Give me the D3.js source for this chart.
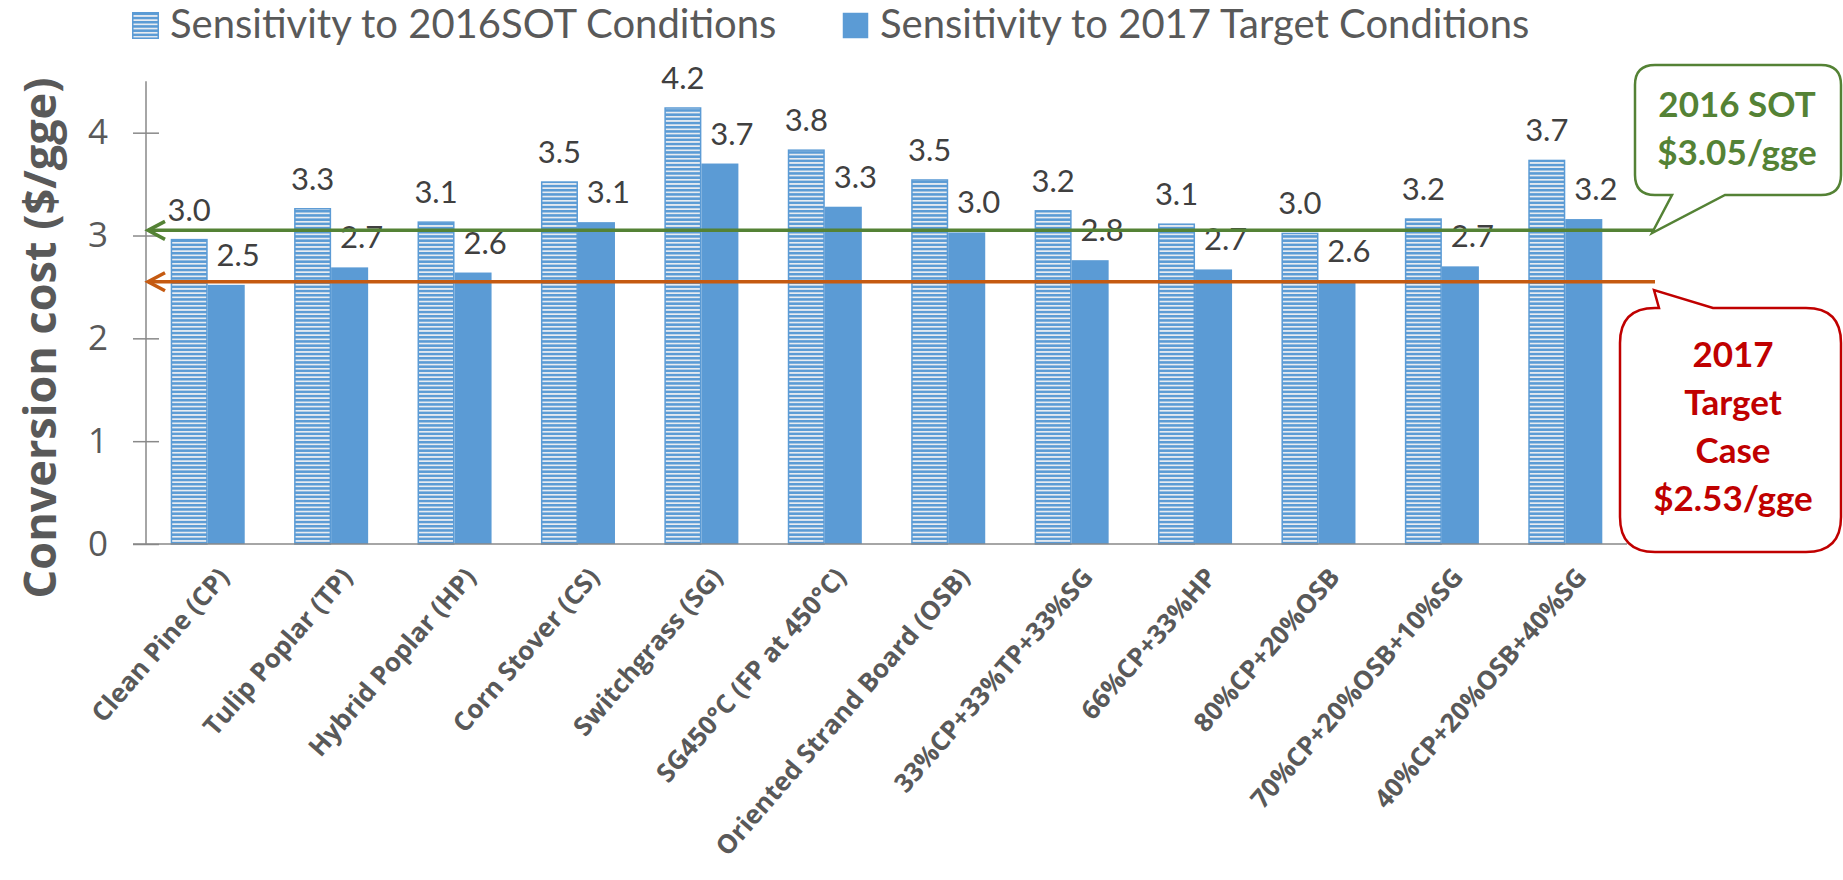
<!DOCTYPE html>
<html>
<head>
<meta charset="utf-8">
<script src="https://cdn.jsdelivr.net/npm/d3@7"></script>
<style>
  body { margin: 0; background: #fff; }
  svg { display: block; }
</style>
</head>
<body>
<main></main>
<script>
(function(){
  //chart data
  const categories = ['Clean Pine (CP)', 'Tulip Poplar (TP)', 'Hybrid Poplar (HP)', 'Corn Stover (CS)',
    'Switchgrass (SG)', 'SG450°C (FP at 450°C)', 'Oriented Strand Board (OSB)', '33%CP+33%TP+33%SG',
    '66%CP+33%HP', '80%CP+20%OSB', '70%CP+20%OSB+10%SG', '40%CP+20%OSB+40%SG'];
  const sot2016 = [2.96, 3.26, 3.13, 3.52, 4.24, 3.83, 3.54, 3.24, 3.11, 3.02, 3.16, 3.73];
  const target2017 = [2.52, 2.69, 2.64, 3.13, 3.70, 3.28, 3.03, 2.76, 2.67, 2.56, 2.70, 3.16];
  const seriesNames = ['Sensitivity to 2016SOT Conditions', 'Sensitivity to 2017 Target Conditions'];
  const yTicks = [0, 1, 2, 3, 4];
  const refValues = [3.05, 2.55]; //2016 SOT line, 2017 target line
  const sotCallout = ['2016 SOT', '$3.05/gge'];
  const targetCallout = ['2017', 'Target', 'Case', '$2.53/gge'];

  const width = 1843, height = 880;
  const left = 146, right = 1627, bottom = 544;
  const blue = '#5B9BD5', axisGrey = '#898989', textGrey = '#595959';
  const green = '#548235', orange = '#C55A11', red = '#C00000';

  const svg = d3.select('main').append('svg')
    .attr('width', width)
    .attr('height', height);

  //horizontal stripe pattern for the 2016 series
  const defs = svg.append('defs');
  const pat = defs.append('pattern')
    .attr('id', 'stripes')
    .attr('patternUnits', 'userSpaceOnUse')
    .attr('width', 10)
    .attr('height', 4.2);
  pat.append('rect').attr('width', 10).attr('height', 4.2).attr('fill', blue);
  pat.append('rect').attr('y', 2.5).attr('width', 10).attr('height', 1.7).attr('fill', '#E8ECF1');

  const x0 = d3.scaleBand()
    .domain(categories)
    .range([left, right]);

  const x1 = d3.scaleBand()
    .domain([0, 1])
    .range([0, x0.bandwidth()])
    .paddingOuter(0.667);

  const y = d3.scaleLinear()
    .domain([0, 4.5])
    .range([bottom, bottom - 4.5 * 102.83]);

  //bars
  const groups = svg.selectAll('.group')
    .data(categories)
    .enter()
    .append('g')
    .attr('class', 'group')
    .attr('transform', d => 'translate(' + x0(d) + ',0)');

  groups.append('rect')
    .attr('x', x1(0) + 0.75)
    .attr('y', (d, i) => y(sot2016[i]))
    .attr('width', x1.bandwidth() - 1.5)
    .attr('height', (d, i) => bottom - y(sot2016[i]))
    .attr('fill', 'url(#stripes)')
    .attr('stroke', blue)
    .attr('stroke-width', 1.5);

  groups.append('rect')
    .attr('x', x1(1))
    .attr('y', (d, i) => y(target2017[i]))
    .attr('width', x1.bandwidth())
    .attr('height', (d, i) => bottom - y(target2017[i]))
    .attr('fill', blue);

  //data labels (second series labels sit a little right of the bar)
  const labelShift = [0, 12];
  [sot2016, target2017].forEach(function(vals, s){
    groups.append('text')
      .attr('x', x1(s) + x1.bandwidth() / 2 + labelShift[s])
      .attr('y', (d, i) => y(vals[i]) - 19)
      .attr('text-anchor', 'middle')
      .style('font-family', 'Lato')
      .style('font-size', '31px')
      .style('fill', '#404040')
      .text((d, i) => vals[i].toFixed(1));
  });

  //axes
  const yAxis = d3.axisLeft(y)
    .tickValues(yTicks)
    .tickSize(0)
    .tickPadding(38)
    .tickFormat(d3.format('d'));

  const ya = svg.append('g')
    .attr('transform', 'translate(' + left + ',0)')
    .call(yAxis);
  ya.select('.domain').remove();
  ya.selectAll('text')
    .style('font-family', 'Open Sans')
    .style('font-size', '35px')
    .style('fill', textGrey);
  //cross ticks
  ya.selectAll('.tick').append('line')
    .attr('x1', -13).attr('x2', 13)
    .attr('stroke', axisGrey)
    .attr('stroke-width', 1.5);

  svg.append('line')
    .attr('x1', left).attr('x2', left)
    .attr('y1', y(4.5)).attr('y2', bottom)
    .attr('stroke', axisGrey).attr('stroke-width', 1.5);
  svg.append('line')
    .attr('x1', left - 13).attr('x2', right)
    .attr('y1', bottom).attr('y2', bottom)
    .attr('stroke', axisGrey).attr('stroke-width', 1.5);

  //rotated category labels
  svg.selectAll('.xlab')
    .data(categories)
    .enter()
    .append('text')
    .attr('class', 'xlab')
    .attr('transform', d => 'translate(' + (x0(d) + x0.bandwidth() / 2 + 9) + ',' + (bottom + 22) + ') rotate(-49)')
    .attr('text-anchor', 'end')
    .attr('dy', '0.7em')
    .style('font-family', 'Open Sans')
    .style('font-weight', 'bold')
    .style('font-size', '26px')
    .style('fill', textGrey)
    .text(d => d);

  //y title
  svg.append('text')
    .attr('transform', 'translate(56,338) rotate(-90)')
    .attr('text-anchor', 'middle')
    .style('font-family', 'Open Sans')
    .style('font-weight', 'bold')
    .style('font-size', '45px')
    .style('fill', textGrey)
    .text('Conversion cost ($/gge)');

  //reference lines with open arrow heads
  const refColors = [green, orange];
  const refEnds = [1653, 1655];
  refValues.forEach(function(v, i){
    const yy = y(v);
    svg.append('line')
      .attr('x1', left + 2).attr('x2', refEnds[i])
      .attr('y1', yy).attr('y2', yy)
      .attr('stroke', refColors[i])
      .attr('stroke-width', 3.5);
    svg.append('path')
      .attr('d', 'M' + (left + 19) + ',' + (yy - 9) + 'L' + (left + 2) + ',' + yy + 'L' + (left + 19) + ',' + (yy + 9))
      .attr('fill', 'none')
      .attr('stroke', refColors[i])
      .attr('stroke-width', 3.5);
  });

  //callouts
  const greenBox = 'M1655,65 H1821 Q1841,65 1841,85 V175 Q1841,195 1821,195 H1725 L1652,233 L1672,195 H1655 Q1635,195 1635,175 V85 Q1635,65 1655,65 Z';
  svg.append('path')
    .attr('d', greenBox)
    .attr('fill', '#fff')
    .attr('stroke', green)
    .attr('stroke-width', 2.5);
  svg.selectAll('.sotText')
    .data(sotCallout)
    .enter()
    .append('text')
    .attr('x', 1737)
    .attr('y', (d, i) => 117 + i * 48)
    .attr('text-anchor', 'middle')
    .style('font-family', 'Lato')
    .style('font-weight', 'bold')
    .style('font-size', '35px')
    .style('fill', green)
    .text(d => d);

  const redBox = 'M1655,308 H1659 L1654,290 L1713,308 H1806 Q1841,308 1841,343 V517 Q1841,552 1806,552 H1655 Q1620,552 1620,517 V343 Q1620,308 1655,308 Z';
  svg.append('path')
    .attr('d', redBox)
    .attr('fill', '#fff')
    .attr('stroke', red)
    .attr('stroke-width', 2.5);
  svg.selectAll('.tgtText')
    .data(targetCallout)
    .enter()
    .append('text')
    .attr('x', 1733)
    .attr('y', (d, i) => 367 + i * 48)
    .attr('text-anchor', 'middle')
    .style('font-family', 'Lato')
    .style('font-weight', 'bold')
    .style('font-size', '35px')
    .style('fill', red)
    .text(d => d);

  //legend
  const legendX = [132, 842];
  seriesNames.forEach(function(name, i){
    svg.append('rect')
      .attr('x', legendX[i] + 0.75).attr('y', 12.75)
      .attr('width', 25.5).attr('height', 25.5)
      .attr('fill', i == 0 ? 'url(#stripes)' : blue)
      .attr('stroke', i == 0 ? blue : 'none')
      .attr('stroke-width', 1.5);
    svg.append('text')
      .attr('x', legendX[i] + 38)
      .attr('y', 38)
      .style('font-family', 'Lato')
      .style('font-size', '40px')
      .style('fill', textGrey)
      .text(name);
  });
})();
</script>
</body>
</html>
